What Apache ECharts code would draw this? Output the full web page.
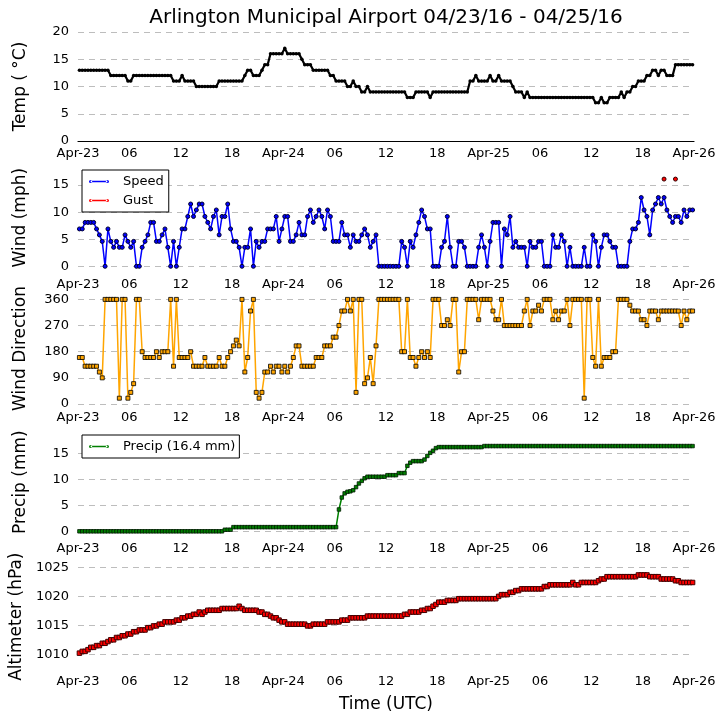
<!DOCTYPE html>
<html><head><meta charset="utf-8">
<script src="https://cdn.jsdelivr.net/npm/echarts@6/dist/echarts.min.js"></script>
<style>html,body{margin:0;padding:0;background:#fff}#c{width:724px;height:725px}</style>
</head><body><div id="c"></div>
<script>
// x-axis tick labels, every 6 hours from Apr-23 00 UTC to Apr-26 00 UTC
const xTickLabels = ['Apr-23','06','12','18','Apr-24','06','12','18','Apr-25','06','12','18','Apr-26'];
// observation schedule: first report 00:10 UTC, then every 20 minutes
const obsStartHour = 10 / 60;
const obsStepHour = 20 / 60;

const tempC = [
13,13,13,13,13,13,13,13,13,13, 13,12,12,12,12,12,12,11,11,12,
12,12,12,12,12,12,12,12,12,12, 12,12,12,11,11,11,12,11,11,11,
11,10,10,10,10,10,10,10,10,11, 11,11,11,11,11,11,11,11,12,13,
13,12,12,12,13,14,14,16,16,16, 16,16,17,16,16,16,16,16,15,14,
14,14,13,13,13,13,13,13,12,12, 11,11,11,11,10,10,11,10,10,9,
9,10,9,9,9,9,9,9,9,9, 9,9,9,9,9,8,8,8,9,9,
9,9,9,8,9,9,9,9,9,9, 9,9,9,9,9,9,9,11,11,12,
11,11,11,11,12,11,11,12,11,11, 11,11,10,9,9,9,8,9,8,8,
8,8,8,8,8,8,8,8,8,8, 8,8,8,8,8,8,8,8,8,8,
8,7,7,8,7,7,8,8,8,8, 9,8,9,9,10,10,11,11,11,12,
12,13,13,12,13,13,12,12,12,14, 14,14,14,14,14,14];

const windMph = [
6.9,6.9,8.1,8.1,8.1,8.1,6.9,5.8,4.6,0, 6.9,4.6,3.5,4.6,3.5,3.5,5.8,4.6,3.5,4.6,
0,0,3.5,4.6,5.8,8.1,8.1,4.6,4.6,5.8, 6.9,3.5,0,4.6,0,3.5,6.9,6.9,9.2,11.5,
9.2,10.4,11.5,11.5,9.2,8.1,6.9,9.2,10.4,5.8, 9.2,9.2,11.5,6.9,4.6,4.6,3.5,0,3.5,3.5,
6.9,0,4.6,3.5,4.6,4.6,6.9,6.9,6.9,9.2, 4.6,6.9,9.2,9.2,4.6,4.6,5.8,8.1,5.8,5.8,
9.2,10.4,8.1,9.2,10.4,9.2,6.9,10.4,9.2,4.6, 4.6,4.6,8.1,5.8,5.8,3.5,5.8,4.6,4.6,5.8,
6.9,5.8,3.5,4.6,5.8,0,0,0,0,0, 0,0,0,4.6,3.5,0,4.6,3.5,5.8,8.1,
10.4,9.2,6.9,6.9,0,0,0,3.5,4.6,9.2, 3.5,0,0,4.6,4.6,3.5,0,0,0,0,
3.5,5.8,3.5,0,4.6,8.1,8.1,8.1,0,6.9, 5.8,9.2,3.5,4.6,3.5,3.5,3.5,0,4.6,3.5,
3.5,4.6,4.6,0,0,0,5.8,3.5,3.5,5.8, 4.6,0,3.5,0,0,0,0,3.5,0,0,
5.8,4.6,0,3.5,5.8,5.8,4.6,3.5,3.5,0, 0,0,0,4.6,6.9,6.9,8.1,12.7,10.4,9.2,
5.8,10.4,11.5,12.7,11.5,12.7,10.4,9.2,8.1,9.2, 9.2,8.1,10.4,9.2,10.4,10.4];

const gustObsIndex = [205, 209];
const gustMph = [16.1, 16.1];

const windDirDeg = [
160,160,130,130,130,130,130,110,90,360, 360,360,360,360,20,360,360,20,40,70,
360,360,180,160,160,160,160,180,160,180, 180,180,360,130,360,160,160,160,160,180,
130,130,130,130,160,130,130,130,130,160, 130,130,160,180,200,220,200,360,110,160,
320,360,40,20,40,110,110,130,110,130, 130,110,130,110,130,160,200,200,130,130,
130,130,130,160,160,160,200,200,200,230, 230,270,320,320,360,320,360,40,360,360,
70,90,160,70,200,360,360,360,360,360, 360,360,360,180,180,360,160,160,130,160,
180,160,180,160,360,360,360,270,270,290, 270,360,360,110,180,180,360,360,360,360,
290,360,360,360,360,320,290,290,360,270, 270,270,270,270,270,270,320,360,270,320,
320,340,320,360,360,360,290,320,290,320, 320,360,270,360,360,360,360,20,360,360,
160,130,360,130,160,160,160,180,180,360, 360,360,360,340,320,320,320,290,290,270,
320,320,320,290,320,320,320,320,320,320, 320,270,320,290,320,320];

const precipMm = [
0,0,0,0,0,0,0,0,0,0, 0,0,0,0,0,0,0,0,0,0,
0,0,0,0,0,0,0,0,0,0, 0,0,0,0,0,0,0,0,0,0,
0,0,0,0,0,0,0,0,0,0, 0,0.3,0.3,0.3,0.8,0.8,0.8,0.8,0.8,0.8,
0.8,0.8,0.8,0.8,0.8,0.8,0.8,0.8,0.8,0.8, 0.8,0.8,0.8,0.8,0.8,0.8,0.8,0.8,0.8,0.8,
0.8,0.8,0.8,0.8,0.8,0.8,0.8,0.8,0.8,0.8, 0.8,4.2,6.5,7.3,7.6,7.7,7.9,8.5,9.2,9.7,
10.2,10.5,10.5,10.5,10.5,10.5,10.5,10.5,10.8,10.8, 10.8,10.8,11.2,11.2,11.2,12.6,13.2,13.5,13.5,13.5,
13.5,13.8,14.5,15.1,15.5,16.0,16.2,16.2,16.2,16.2, 16.2,16.2,16.2,16.2,16.2,16.2,16.2,16.2,16.2,16.2,
16.2,16.2,16.4,16.4,16.4,16.4,16.4,16.4,16.4,16.4, 16.4,16.4,16.4,16.4,16.4,16.4,16.4,16.4,16.4,16.4,
16.4,16.4,16.4,16.4,16.4,16.4,16.4,16.4,16.4,16.4, 16.4,16.4,16.4,16.4,16.4,16.4,16.4,16.4,16.4,16.4,
16.4,16.4,16.4,16.4,16.4,16.4,16.4,16.4,16.4,16.4, 16.4,16.4,16.4,16.4,16.4,16.4,16.4,16.4,16.4,16.4,
16.4,16.4,16.4,16.4,16.4,16.4,16.4,16.4,16.4,16.4, 16.4,16.4,16.4,16.4,16.4,16.4];

const altimeterHpa = [
1010.2,1010.5,1010.5,1010.8,1011.2,1011.2,1011.5,1011.5,1011.9,1011.9,
1012.2,1012.5,1012.5,1012.9,1012.9,1013.2,1013.2,1013.5,1013.5,1013.9,
1013.9,1014.2,1014.2,1014.2,1014.6,1014.6,1014.9,1014.9,1015.2,1015.2,
1015.6,1015.6,1015.6,1015.6,1015.9,1015.9,1016.3,1016.3,1016.6,1016.6,
1016.9,1016.9,1017.3,1016.9,1017.3,1017.6,1017.6,1017.6,1017.6,1017.6,
1017.9,1017.9,1017.9,1017.9,1017.9,1017.9,1018.3,1017.9,1017.6,1017.6,
1017.6,1017.6,1017.6,1017.3,1017.3,1016.9,1016.9,1016.6,1016.3,1016.3,
1015.9,1015.6,1015.6,1015.2,1015.2,1015.2,1015.2,1015.2,1015.2,1015.2,
1014.9,1014.9,1015.2,1015.2,1015.2,1015.2,1015.2,1015.6,1015.6,1015.6,
1015.6,1015.6,1015.9,1015.9,1015.9,1016.3,1016.3,1016.3,1016.3,1016.3,
1016.3,1016.6,1016.6,1016.6,1016.6,1016.6,1016.6,1016.6,1016.6,1016.6,
1016.6,1016.6,1016.6,1016.6,1016.9,1016.9,1017.3,1017.3,1017.3,1017.3,
1017.6,1017.6,1017.9,1017.9,1018.3,1018.6,1019.0,1019.0,1019.0,1019.3,
1019.3,1019.3,1019.3,1019.6,1019.6,1019.6,1019.6,1019.6,1019.6,1019.6,
1019.6,1019.6,1019.6,1019.6,1019.6,1019.6,1019.6,1020.0,1020.3,1020.3,
1020.3,1020.7,1020.7,1021.0,1021.0,1021.3,1021.3,1021.3,1021.3,1021.3,
1021.3,1021.3,1021.3,1021.7,1021.7,1022.0,1022.0,1022.0,1022.0,1022.0,
1022.0,1022.0,1022.0,1022.4,1022.0,1022.0,1022.4,1022.4,1022.4,1022.4,
1022.4,1022.4,1022.7,1023.0,1023.0,1023.4,1023.4,1023.4,1023.4,1023.4,
1023.4,1023.4,1023.4,1023.4,1023.4,1023.4,1023.7,1023.7,1023.7,1023.7,
1023.4,1023.4,1023.4,1023.4,1023.0,1023.0,1023.0,1023.0,1023.0,1022.7,
1022.7,1022.4,1022.4,1022.4,1022.4,1022.4];

const obsHour = i => obsStartHour + i * obsStepHour;
const toXY = arr => arr.map((v, i) => [obsHour(i), v]);
const gustXY = gustObsIndex.map((k, j) => [obsHour(k), gustMph[j]]);

const FONT = 'DejaVu Sans';
const GRID_COLOR = '#bdbdbd';
// legend handle: short line with a marker dot at each end (20 x 4 box)
const LEGEND_ICON = 'path://M10,0L10.01,0L10,0Z M10,4L10.01,4L10,4Z ' +
  'M0,2a1.6,1.6 0 1,0 3.2,0a1.6,1.6 0 1,0 -3.2,0Z ' +
  'M16.8,2a1.6,1.6 0 1,0 3.2,0a1.6,1.6 0 1,0 -3.2,0Z ' +
  'M1.6,1.3L18.4,1.3L18.4,2.7L1.6,2.7Z';

const panels = [
  {top: 32,  height: 109,   min: 0,    max: 20,     step: 5,  name: 'Temp ( °C)',      lblMargin: 6,  axisLine: true,  namePad: [0, 0, 0, 0]},
  {top: 165, height: 101.3, min: 0,    max: 18.7,   step: 5,  name: 'Wind (mph)',      lblMargin: 12, axisLine: false, namePad: [0, 4, 0, 0]},
  {top: 293, height: 111,   min: 0,    max: 382,    step: 90, name: 'Wind Direction',  lblMargin: 7,  axisLine: false, namePad: [0, 0, 0, 0]},
  {top: 431, height: 100.3, min: 0,    max: 19.3,   step: 5,  name: 'Precip (mm)',     lblMargin: 11, axisLine: false, namePad: [0, 2, 0, 0]},
  {top: 557, height: 97.3,  min: 1010, max: 1026.8, step: 5,  name: 'Altimeter (hPa)', lblMargin: 21, axisLine: false, namePad: [0, 22, 0, 0]}
];

function splitColors(p) {
  const n = Math.floor((p.max - p.min) / p.step + 1e-9) + 1;
  const cols = [];
  for (let k = 0; k < n; k++) cols.push(GRID_COLOR);
  if (Math.abs((p.max - p.min) / p.step - Math.round((p.max - p.min) / p.step)) > 1e-6) cols.push('rgba(0,0,0,0)');
  return cols;
}

const legendCommon = {
  orient: 'vertical', left: 82, icon: LEGEND_ICON, itemWidth: 20, itemHeight: 4, itemGap: 4,
  itemStyle: {borderWidth: 0},
  borderColor: '#000', borderWidth: 1, borderRadius: 0, backgroundColor: '#fff',
  textStyle: {fontSize: 13, color: '#000', fontFamily: FONT, padding: [0, 0, 0, 9], lineHeight: 15},
  selectedMode: false
};

const option = {
  animation: false,
  backgroundColor: '#fff',
  textStyle: {fontFamily: FONT},
  grid: panels.map(p => ({left: 78, width: 616, top: p.top, height: p.height, containLabel: false})),
  xAxis: panels.map((p, gi) => ({
    type: 'value', gridIndex: gi, min: 0, max: 72, interval: 6,
    axisLine: {show: p.axisLine, onZero: false, lineStyle: {color: '#000', width: 1.2}},
    axisTick: {show: false},
    splitLine: {show: false},
    axisLabel: {
      margin: p.lblMargin, color: '#000', fontSize: 13, fontFamily: FONT,
      formatter: v => xTickLabels[Math.round(v / 6)] || ''
    }
  })),
  yAxis: panels.map((p, gi) => ({
    type: 'value', gridIndex: gi, min: p.min, max: p.max, interval: p.step,
    name: p.name, nameLocation: 'middle', nameRotate: 90, nameGap: 49,
    nameTextStyle: {fontSize: 17, color: '#000', fontFamily: FONT, padding: p.namePad},
    axisLine: {show: false}, axisTick: {show: false},
    axisLabel: {
      margin: 9, color: '#000', fontSize: 13, fontFamily: FONT,
      formatter: v => (Math.abs((v - p.min) / p.step - Math.round((v - p.min) / p.step)) < 1e-6 ? String(Math.round(v)) : '')
    },
    splitLine: {show: true, lineStyle: {color: splitColors(p), type: [6, 5], width: 1}}
  })),
  legend: [
    Object.assign({}, legendCommon, {data: ['Speed', 'Gust'], top: 170, padding: [4, 5, 4, 7]}),
    Object.assign({}, legendCommon, {data: ['Precip (16.4 mm)'], top: 435, padding: [4, 4, 4, 7]})
  ],
  graphic: [
    {type: 'text', x: 386, y: 18, style: {text: 'Arlington Municipal Airport 04/23/16 - 04/25/16', fontSize: 20, fontFamily: FONT, fill: '#000', align: 'center', verticalAlign: 'middle'}},
    {type: 'text', x: 386, y: 705, style: {text: 'Time (UTC)', fontSize: 17, fontFamily: FONT, fill: '#000', align: 'center', verticalAlign: 'middle'}}
  ],
  series: [
    {name: 'Temp', type: 'line', xAxisIndex: 0, yAxisIndex: 0, data: toXY(tempC), clip: false,
     showAllSymbol: true, symbol: 'circle', symbolSize: 3.5,
     lineStyle: {color: '#000', width: 2.2}, itemStyle: {color: '#000'}},
    {name: 'Speed', type: 'line', xAxisIndex: 1, yAxisIndex: 1, data: toXY(windMph), clip: false,
     showAllSymbol: true, symbol: 'circle', symbolSize: 4,
     lineStyle: {color: '#0000ff', width: 1.5}, itemStyle: {color: '#0000ff', borderColor: '#000030', borderWidth: 1}},
    {name: 'Gust', type: 'line', xAxisIndex: 1, yAxisIndex: 1, data: gustXY, clip: false,
     showAllSymbol: true, symbol: 'circle', symbolSize: 4,
     lineStyle: {color: '#ff0000', width: 0}, itemStyle: {color: '#ff0000', borderColor: '#300000', borderWidth: 1}},
    {name: 'Direction', type: 'line', xAxisIndex: 2, yAxisIndex: 2, data: toXY(windDirDeg), clip: false,
     showAllSymbol: true, symbol: 'rect', symbolSize: 4,
     lineStyle: {color: '#ffa500', width: 1.5}, itemStyle: {color: '#ffa500', borderColor: '#000', borderWidth: 0.8}},
    {name: 'Precip (16.4 mm)', type: 'line', xAxisIndex: 3, yAxisIndex: 3, data: toXY(precipMm), clip: false,
     showAllSymbol: true, symbol: 'rect', symbolSize: 3.5,
     lineStyle: {color: '#008000', width: 1.5}, itemStyle: {color: '#008000', borderColor: '#001a00', borderWidth: 0.8}},
    {name: 'Altimeter', type: 'line', xAxisIndex: 4, yAxisIndex: 4, data: toXY(altimeterHpa), clip: false,
     showAllSymbol: true, symbol: 'rect', symbolSize: 4.5,
     lineStyle: {color: '#cc0000', width: 1.5}, itemStyle: {color: '#ff0000', borderColor: '#400000', borderWidth: 1}}
  ]
};

const chart = echarts.init(document.getElementById('c'), null, {renderer: 'canvas'});
chart.setOption(option);
</script></body></html>
